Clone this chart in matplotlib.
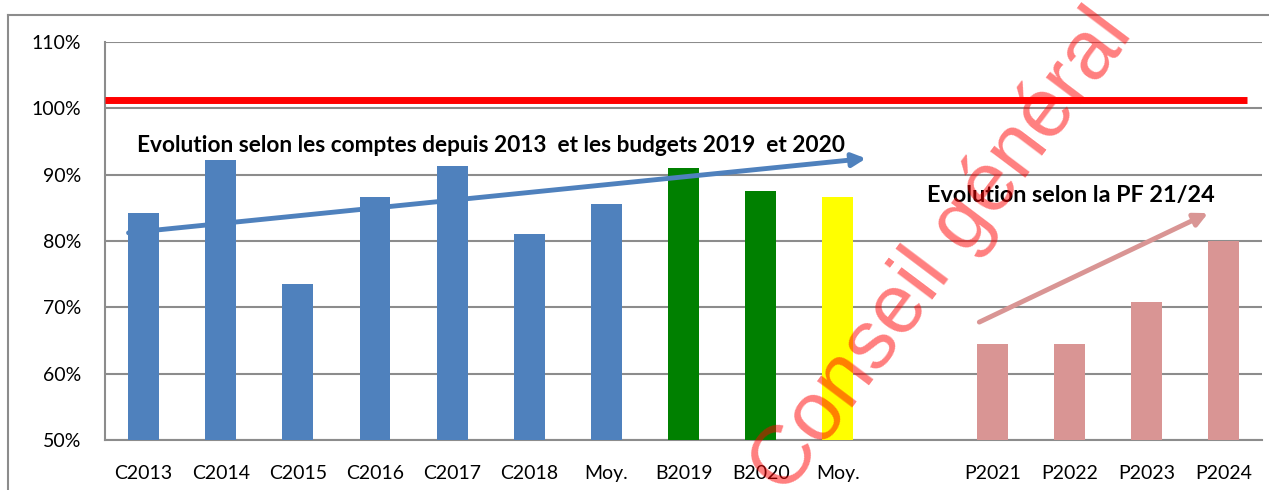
import numpy as np
import matplotlib.pyplot as plt
from matplotlib.lines import Line2D

categories = ['C2013', 'C2014', 'C2015', 'C2016', 'C2017', 'C2018', 'Moy.',
              'B2019', 'B2020', 'Moy.', '', 'P2021', 'P2022', 'P2023', 'P2024']
values = [84.3, 92.3, 73.6, 86.7, 91.3, 81.1, 85.6,
          91.0, 87.6, 86.7, np.nan, 64.5, 64.5, 70.8, 80.0]
colors = ['#4f81bd'] * 7 + ['#008000', '#008000', '#ffff00', 'white'] + ['#d99594'] * 4
ref_level = 101.2

plt.rcParams['font.family'] = ['Lato', 'DejaVu Sans']

fig = plt.figure(figsize=(12.69, 4.90), dpi=100)
ax = fig.add_axes([0.0827, 0.102, 0.912, 0.812])

x = np.arange(len(categories))
ax.bar(x, values, width=0.4, color=colors, zorder=3)

ax.set_xlim(-0.5, len(categories) - 0.5)
ax.set_ylim(50, 110)
ax.set_yticks(range(50, 111, 10))
ax.set_yticklabels(['%d%%' % v for v in range(50, 111, 10)], fontsize=14)
ax.set_xticks(x)
ax.set_xticklabels(categories, fontsize=14)
ax.tick_params(axis='x', length=0, pad=18)
ax.tick_params(axis='y', length=0, pad=17)
ax.grid(axis='y', color='#8c8c8c', linewidth=1.5, zorder=0)
for s in ['top', 'right']:
    ax.spines[s].set_visible(False)
for s in ['left', 'bottom']:
    ax.spines[s].set_color('#8c8c8c')
    ax.spines[s].set_linewidth(1.5)

# reference line
ax.plot([-0.5, 14.3], [ref_level, ref_level], color='red', linewidth=5, zorder=4,
        solid_capstyle='butt')

# trend arrows
ax.annotate('', xy=(9.4, 92.5), xytext=(-0.23, 81.2),
            arrowprops=dict(arrowstyle='-|>,head_length=0.8,head_width=0.4',
                            color='#4f81bd', lw=3.5), zorder=5)
ax.annotate('', xy=(13.83, 84.4), xytext=(10.8, 67.6),
            arrowprops=dict(arrowstyle='-|>,head_length=0.8,head_width=0.4',
                            color='#d99594', lw=3.5), zorder=5)

ax.text(-0.08, 94.4, 'Evolution selon les comptes depuis 2013  et les budgets 2019  et 2020',
        fontsize=16.3, fontweight='bold', va='center', ha='left', zorder=6)
ax.text(10.15, 86.8, 'Evolution selon la PF 21/24',
        fontsize=16.8, fontweight='bold', va='center', ha='left', zorder=6)

# watermark
fig.text(0.742, 0.486, 'Conseil général', fontsize=60, color='red', alpha=0.5,
         rotation=53, ha='center', va='center', family='Liberation Sans', zorder=10)

# outer chart frame
fig.add_artist(Line2D([8 / 1269, 1], [1 - 15 / 490, 1 - 15 / 490],
                      transform=fig.transFigure, color='#8c8c8c', lw=1.5))
fig.add_artist(Line2D([8 / 1269, 8 / 1269], [0, 1 - 15 / 490],
                      transform=fig.transFigure, color='#8c8c8c', lw=1.5))

fig.savefig('out.png', dpi=100)
